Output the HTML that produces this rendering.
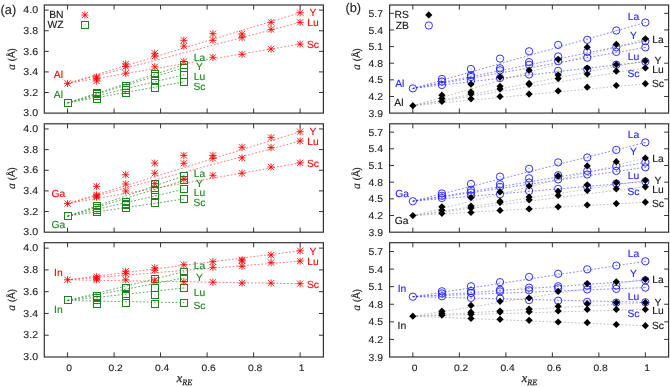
<!DOCTYPE html><html><head><meta charset="utf-8"><style>html,body{margin:0;padding:0;background:#fff;}body{width:670px;height:387px;overflow:hidden;font-family:"Liberation Sans",sans-serif;}svg{display:block;will-change:transform;} text{stroke-width:0.12px;text-rendering:geometricPrecision;}</style></head><body><svg width="670" height="387" viewBox="0 0 670 387"><rect width="670" height="387" fill="#fff"/><rect x="44.3" y="5" width="279.1" height="108.1" fill="none" stroke="#333333" stroke-width="1.2"/><path d="M67.56 5v4.6M67.56 113.1v-4.6" stroke="#333333" stroke-width="1"/><path d="M114.08 5v4.6M114.08 113.1v-4.6" stroke="#333333" stroke-width="1"/><path d="M160.59 5v4.6M160.59 113.1v-4.6" stroke="#333333" stroke-width="1"/><path d="M207.11 5v4.6M207.11 113.1v-4.6" stroke="#333333" stroke-width="1"/><path d="M253.62 5v4.6M253.62 113.1v-4.6" stroke="#333333" stroke-width="1"/><path d="M300.14 5v4.6M300.14 113.1v-4.6" stroke="#333333" stroke-width="1"/><path d="M44.3 92.51h4.4M323.4 92.51h-4.4" stroke="#333333" stroke-width="1"/><path d="M44.3 71.92h4.4M323.4 71.92h-4.4" stroke="#333333" stroke-width="1"/><path d="M44.3 51.33h4.4M323.4 51.33h-4.4" stroke="#333333" stroke-width="1"/><path d="M44.3 30.74h4.4M323.4 30.74h-4.4" stroke="#333333" stroke-width="1"/><path d="M44.3 10.15h4.4M323.4 10.15h-4.4" stroke="#333333" stroke-width="1"/><rect x="389.6" y="5" width="279" height="108.1" fill="none" stroke="#333333" stroke-width="1.2"/><path d="M412.85 5v4.6M412.85 113.1v-4.6" stroke="#333333" stroke-width="1"/><path d="M459.35 5v4.6M459.35 113.1v-4.6" stroke="#333333" stroke-width="1"/><path d="M505.85 5v4.6M505.85 113.1v-4.6" stroke="#333333" stroke-width="1"/><path d="M552.35 5v4.6M552.35 113.1v-4.6" stroke="#333333" stroke-width="1"/><path d="M598.85 5v4.6M598.85 113.1v-4.6" stroke="#333333" stroke-width="1"/><path d="M645.35 5v4.6M645.35 113.1v-4.6" stroke="#333333" stroke-width="1"/><path d="M389.6 96.47h4.4M668.6 96.47h-4.4" stroke="#333333" stroke-width="1"/><path d="M389.6 79.84h4.4M668.6 79.84h-4.4" stroke="#333333" stroke-width="1"/><path d="M389.6 63.21h4.4M668.6 63.21h-4.4" stroke="#333333" stroke-width="1"/><path d="M389.6 46.58h4.4M668.6 46.58h-4.4" stroke="#333333" stroke-width="1"/><path d="M389.6 29.95h4.4M668.6 29.95h-4.4" stroke="#333333" stroke-width="1"/><path d="M389.6 13.32h4.4M668.6 13.32h-4.4" stroke="#333333" stroke-width="1"/><rect x="44.3" y="123.8" width="279.1" height="108.4" fill="none" stroke="#333333" stroke-width="1.2"/><path d="M67.56 123.8v4.6M67.56 232.2v-4.6" stroke="#333333" stroke-width="1"/><path d="M114.08 123.8v4.6M114.08 232.2v-4.6" stroke="#333333" stroke-width="1"/><path d="M160.59 123.8v4.6M160.59 232.2v-4.6" stroke="#333333" stroke-width="1"/><path d="M207.11 123.8v4.6M207.11 232.2v-4.6" stroke="#333333" stroke-width="1"/><path d="M253.62 123.8v4.6M253.62 232.2v-4.6" stroke="#333333" stroke-width="1"/><path d="M300.14 123.8v4.6M300.14 232.2v-4.6" stroke="#333333" stroke-width="1"/><path d="M44.3 211.55h4.4M323.4 211.55h-4.4" stroke="#333333" stroke-width="1"/><path d="M44.3 190.9h4.4M323.4 190.9h-4.4" stroke="#333333" stroke-width="1"/><path d="M44.3 170.26h4.4M323.4 170.26h-4.4" stroke="#333333" stroke-width="1"/><path d="M44.3 149.61h4.4M323.4 149.61h-4.4" stroke="#333333" stroke-width="1"/><path d="M44.3 128.96h4.4M323.4 128.96h-4.4" stroke="#333333" stroke-width="1"/><rect x="389.6" y="123.8" width="279" height="108.4" fill="none" stroke="#333333" stroke-width="1.2"/><path d="M412.85 123.8v4.6M412.85 232.2v-4.6" stroke="#333333" stroke-width="1"/><path d="M459.35 123.8v4.6M459.35 232.2v-4.6" stroke="#333333" stroke-width="1"/><path d="M505.85 123.8v4.6M505.85 232.2v-4.6" stroke="#333333" stroke-width="1"/><path d="M552.35 123.8v4.6M552.35 232.2v-4.6" stroke="#333333" stroke-width="1"/><path d="M598.85 123.8v4.6M598.85 232.2v-4.6" stroke="#333333" stroke-width="1"/><path d="M645.35 123.8v4.6M645.35 232.2v-4.6" stroke="#333333" stroke-width="1"/><path d="M389.6 215.52h4.4M668.6 215.52h-4.4" stroke="#333333" stroke-width="1"/><path d="M389.6 198.85h4.4M668.6 198.85h-4.4" stroke="#333333" stroke-width="1"/><path d="M389.6 182.17h4.4M668.6 182.17h-4.4" stroke="#333333" stroke-width="1"/><path d="M389.6 165.49h4.4M668.6 165.49h-4.4" stroke="#333333" stroke-width="1"/><path d="M389.6 148.82h4.4M668.6 148.82h-4.4" stroke="#333333" stroke-width="1"/><path d="M389.6 132.14h4.4M668.6 132.14h-4.4" stroke="#333333" stroke-width="1"/><rect x="44.3" y="242.7" width="279.1" height="114.3" fill="none" stroke="#333333" stroke-width="1.2"/><path d="M67.56 242.7v4.6M67.56 357v-4.6" stroke="#333333" stroke-width="1"/><path d="M114.08 242.7v4.6M114.08 357v-4.6" stroke="#333333" stroke-width="1"/><path d="M160.59 242.7v4.6M160.59 357v-4.6" stroke="#333333" stroke-width="1"/><path d="M207.11 242.7v4.6M207.11 357v-4.6" stroke="#333333" stroke-width="1"/><path d="M253.62 242.7v4.6M253.62 357v-4.6" stroke="#333333" stroke-width="1"/><path d="M300.14 242.7v4.6M300.14 357v-4.6" stroke="#333333" stroke-width="1"/><path d="M44.3 335.23h4.4M323.4 335.23h-4.4" stroke="#333333" stroke-width="1"/><path d="M44.3 313.46h4.4M323.4 313.46h-4.4" stroke="#333333" stroke-width="1"/><path d="M44.3 291.69h4.4M323.4 291.69h-4.4" stroke="#333333" stroke-width="1"/><path d="M44.3 269.91h4.4M323.4 269.91h-4.4" stroke="#333333" stroke-width="1"/><path d="M44.3 248.14h4.4M323.4 248.14h-4.4" stroke="#333333" stroke-width="1"/><rect x="389.6" y="242.7" width="279" height="114.3" fill="none" stroke="#333333" stroke-width="1.2"/><path d="M412.85 242.7v4.6M412.85 357v-4.6" stroke="#333333" stroke-width="1"/><path d="M459.35 242.7v4.6M459.35 357v-4.6" stroke="#333333" stroke-width="1"/><path d="M505.85 242.7v4.6M505.85 357v-4.6" stroke="#333333" stroke-width="1"/><path d="M552.35 242.7v4.6M552.35 357v-4.6" stroke="#333333" stroke-width="1"/><path d="M598.85 242.7v4.6M598.85 357v-4.6" stroke="#333333" stroke-width="1"/><path d="M645.35 242.7v4.6M645.35 357v-4.6" stroke="#333333" stroke-width="1"/><path d="M389.6 339.42h4.4M668.6 339.42h-4.4" stroke="#333333" stroke-width="1"/><path d="M389.6 321.83h4.4M668.6 321.83h-4.4" stroke="#333333" stroke-width="1"/><path d="M389.6 304.25h4.4M668.6 304.25h-4.4" stroke="#333333" stroke-width="1"/><path d="M389.6 286.66h4.4M668.6 286.66h-4.4" stroke="#333333" stroke-width="1"/><path d="M389.6 269.08h4.4M668.6 269.08h-4.4" stroke="#333333" stroke-width="1"/><path d="M389.6 251.49h4.4M668.6 251.49h-4.4" stroke="#333333" stroke-width="1"/><g font-family="Liberation Sans, sans-serif" fill="#222"><text transform="translate(38.1 116.3) scale(1.06 1.0)" fill="#222" stroke="#222" font-size="10.0" text-anchor="end">3.0</text><text transform="translate(38.1 95.71) scale(1.06 1.0)" fill="#222" stroke="#222" font-size="10.0" text-anchor="end">3.2</text><text transform="translate(38.1 75.12) scale(1.06 1.0)" fill="#222" stroke="#222" font-size="10.0" text-anchor="end">3.4</text><text transform="translate(38.1 54.53) scale(1.06 1.0)" fill="#222" stroke="#222" font-size="10.0" text-anchor="end">3.6</text><text transform="translate(38.1 33.94) scale(1.06 1.0)" fill="#222" stroke="#222" font-size="10.0" text-anchor="end">3.8</text><text transform="translate(38.1 13.35) scale(1.06 1.0)" fill="#222" stroke="#222" font-size="10.0" text-anchor="end">4.0</text><text transform="translate(383 116.7) scale(1.04 1.0)" fill="#222" stroke="#222" font-size="10.0" text-anchor="end">3.9</text><text transform="translate(383 100.07) scale(1.04 1.0)" fill="#222" stroke="#222" font-size="10.0" text-anchor="end">4.2</text><text transform="translate(383 83.44) scale(1.04 1.0)" fill="#222" stroke="#222" font-size="10.0" text-anchor="end">4.5</text><text transform="translate(383 66.81) scale(1.04 1.0)" fill="#222" stroke="#222" font-size="10.0" text-anchor="end">4.8</text><text transform="translate(383 50.18) scale(1.04 1.0)" fill="#222" stroke="#222" font-size="10.0" text-anchor="end">5.1</text><text transform="translate(383 33.55) scale(1.04 1.0)" fill="#222" stroke="#222" font-size="10.0" text-anchor="end">5.4</text><text transform="translate(383 16.92) scale(1.04 1.0)" fill="#222" stroke="#222" font-size="10.0" text-anchor="end">5.7</text><text transform="translate(38.1 235.4) scale(1.06 1.0)" fill="#222" stroke="#222" font-size="10.0" text-anchor="end">3.0</text><text transform="translate(38.1 214.75) scale(1.06 1.0)" fill="#222" stroke="#222" font-size="10.0" text-anchor="end">3.2</text><text transform="translate(38.1 194.1) scale(1.06 1.0)" fill="#222" stroke="#222" font-size="10.0" text-anchor="end">3.4</text><text transform="translate(38.1 173.46) scale(1.06 1.0)" fill="#222" stroke="#222" font-size="10.0" text-anchor="end">3.6</text><text transform="translate(38.1 152.81) scale(1.06 1.0)" fill="#222" stroke="#222" font-size="10.0" text-anchor="end">3.8</text><text transform="translate(38.1 132.16) scale(1.06 1.0)" fill="#222" stroke="#222" font-size="10.0" text-anchor="end">4.0</text><text transform="translate(383 235.8) scale(1.04 1.0)" fill="#222" stroke="#222" font-size="10.0" text-anchor="end">3.9</text><text transform="translate(383 219.12) scale(1.04 1.0)" fill="#222" stroke="#222" font-size="10.0" text-anchor="end">4.2</text><text transform="translate(383 202.45) scale(1.04 1.0)" fill="#222" stroke="#222" font-size="10.0" text-anchor="end">4.5</text><text transform="translate(383 185.77) scale(1.04 1.0)" fill="#222" stroke="#222" font-size="10.0" text-anchor="end">4.8</text><text transform="translate(383 169.09) scale(1.04 1.0)" fill="#222" stroke="#222" font-size="10.0" text-anchor="end">5.1</text><text transform="translate(383 152.42) scale(1.04 1.0)" fill="#222" stroke="#222" font-size="10.0" text-anchor="end">5.4</text><text transform="translate(383 135.74) scale(1.04 1.0)" fill="#222" stroke="#222" font-size="10.0" text-anchor="end">5.7</text><text transform="translate(38.1 360.2) scale(1.06 1.0)" fill="#222" stroke="#222" font-size="10.0" text-anchor="end">3.0</text><text transform="translate(38.1 338.43) scale(1.06 1.0)" fill="#222" stroke="#222" font-size="10.0" text-anchor="end">3.2</text><text transform="translate(38.1 316.66) scale(1.06 1.0)" fill="#222" stroke="#222" font-size="10.0" text-anchor="end">3.4</text><text transform="translate(38.1 294.89) scale(1.06 1.0)" fill="#222" stroke="#222" font-size="10.0" text-anchor="end">3.6</text><text transform="translate(38.1 273.11) scale(1.06 1.0)" fill="#222" stroke="#222" font-size="10.0" text-anchor="end">3.8</text><text transform="translate(38.1 251.34) scale(1.06 1.0)" fill="#222" stroke="#222" font-size="10.0" text-anchor="end">4.0</text><text transform="translate(383 360.6) scale(1.04 1.0)" fill="#222" stroke="#222" font-size="10.0" text-anchor="end">3.9</text><text transform="translate(383 343.02) scale(1.04 1.0)" fill="#222" stroke="#222" font-size="10.0" text-anchor="end">4.2</text><text transform="translate(383 325.43) scale(1.04 1.0)" fill="#222" stroke="#222" font-size="10.0" text-anchor="end">4.5</text><text transform="translate(383 307.85) scale(1.04 1.0)" fill="#222" stroke="#222" font-size="10.0" text-anchor="end">4.8</text><text transform="translate(383 290.26) scale(1.04 1.0)" fill="#222" stroke="#222" font-size="10.0" text-anchor="end">5.1</text><text transform="translate(383 272.68) scale(1.04 1.0)" fill="#222" stroke="#222" font-size="10.0" text-anchor="end">5.4</text><text transform="translate(383 255.09) scale(1.04 1.0)" fill="#222" stroke="#222" font-size="10.0" text-anchor="end">5.7</text><text transform="translate(69.06 370.55) scale(1.03 0.93)" fill="#222" stroke="#222" font-size="10.0" text-anchor="middle">0</text><text transform="translate(414.55 370.55) scale(1.03 0.93)" fill="#222" stroke="#222" font-size="10.0" text-anchor="middle">0</text><text transform="translate(115.58 370.55) scale(1.03 0.93)" fill="#222" stroke="#222" font-size="10.0" text-anchor="middle">0.2</text><text transform="translate(461.05 370.55) scale(1.03 0.93)" fill="#222" stroke="#222" font-size="10.0" text-anchor="middle">0.2</text><text transform="translate(162.09 370.55) scale(1.03 0.93)" fill="#222" stroke="#222" font-size="10.0" text-anchor="middle">0.4</text><text transform="translate(507.55 370.55) scale(1.03 0.93)" fill="#222" stroke="#222" font-size="10.0" text-anchor="middle">0.4</text><text transform="translate(208.61 370.55) scale(1.03 0.93)" fill="#222" stroke="#222" font-size="10.0" text-anchor="middle">0.6</text><text transform="translate(554.05 370.55) scale(1.03 0.93)" fill="#222" stroke="#222" font-size="10.0" text-anchor="middle">0.6</text><text transform="translate(255.12 370.55) scale(1.03 0.93)" fill="#222" stroke="#222" font-size="10.0" text-anchor="middle">0.8</text><text transform="translate(600.55 370.55) scale(1.03 0.93)" fill="#222" stroke="#222" font-size="10.0" text-anchor="middle">0.8</text><text transform="translate(301.64 370.55) scale(1.03 0.93)" fill="#222" stroke="#222" font-size="10.0" text-anchor="middle">1</text><text transform="translate(647.05 370.55) scale(1.03 0.93)" fill="#222" stroke="#222" font-size="10.0" text-anchor="middle">1</text></g><line x1="67.56" y1="83.4" x2="300.14" y2="12.7" stroke="#ff0000" stroke-width="0.85" stroke-dasharray="1.8 1.8" opacity="0.6"/><line x1="67.56" y1="83.4" x2="300.14" y2="22.3" stroke="#ff0000" stroke-width="0.85" stroke-dasharray="1.8 1.8" opacity="0.6"/><line x1="67.56" y1="83.4" x2="300.14" y2="44.1" stroke="#ff0000" stroke-width="0.85" stroke-dasharray="1.8 1.8" opacity="0.6"/><line x1="67.56" y1="102.85" x2="183.85" y2="64.8" stroke="#1e821e" stroke-width="0.85" stroke-dasharray="1.8 1.8" opacity="0.8"/><line x1="67.56" y1="102.85" x2="183.85" y2="67.8" stroke="#1e821e" stroke-width="0.85" stroke-dasharray="1.8 1.8" opacity="0.8"/><line x1="67.56" y1="102.85" x2="183.85" y2="74.8" stroke="#1e821e" stroke-width="0.85" stroke-dasharray="1.8 1.8" opacity="0.8"/><line x1="67.56" y1="102.85" x2="183.85" y2="82" stroke="#1e821e" stroke-width="0.85" stroke-dasharray="1.8 1.8" opacity="0.8"/><line x1="67.56" y1="203.6" x2="300.14" y2="131.7" stroke="#ff0000" stroke-width="0.85" stroke-dasharray="1.8 1.8" opacity="0.6"/><line x1="67.56" y1="203.6" x2="300.14" y2="141" stroke="#ff0000" stroke-width="0.85" stroke-dasharray="1.8 1.8" opacity="0.6"/><line x1="67.56" y1="203.6" x2="300.14" y2="162.9" stroke="#ff0000" stroke-width="0.85" stroke-dasharray="1.8 1.8" opacity="0.6"/><line x1="67.56" y1="216.2" x2="183.85" y2="175.8" stroke="#1e821e" stroke-width="0.85" stroke-dasharray="1.8 1.8" opacity="0.8"/><line x1="67.56" y1="216.2" x2="183.85" y2="180.5" stroke="#1e821e" stroke-width="0.85" stroke-dasharray="1.8 1.8" opacity="0.8"/><line x1="67.56" y1="216.2" x2="183.85" y2="189.2" stroke="#1e821e" stroke-width="0.85" stroke-dasharray="1.8 1.8" opacity="0.8"/><line x1="67.56" y1="216.2" x2="183.85" y2="199" stroke="#1e821e" stroke-width="0.85" stroke-dasharray="1.8 1.8" opacity="0.8"/><line x1="67.56" y1="279.8" x2="300.14" y2="250.8" stroke="#ff0000" stroke-width="0.85" stroke-dasharray="1.8 1.8" opacity="0.6"/><line x1="67.56" y1="279.8" x2="300.14" y2="261.1" stroke="#ff0000" stroke-width="0.85" stroke-dasharray="1.8 1.8" opacity="0.6"/><line x1="67.56" y1="279.8" x2="300.14" y2="283.7" stroke="#ff0000" stroke-width="0.85" stroke-dasharray="1.8 1.8" opacity="0.6"/><line x1="67.56" y1="300.5" x2="183.85" y2="271.7" stroke="#1e821e" stroke-width="0.85" stroke-dasharray="1.8 1.8" opacity="0.8"/><line x1="67.56" y1="300.5" x2="183.85" y2="277.9" stroke="#1e821e" stroke-width="0.85" stroke-dasharray="1.8 1.8" opacity="0.8"/><line x1="67.56" y1="300.5" x2="183.85" y2="288" stroke="#1e821e" stroke-width="0.85" stroke-dasharray="1.8 1.8" opacity="0.8"/><line x1="67.56" y1="300.5" x2="183.85" y2="302.7" stroke="#1e821e" stroke-width="0.85" stroke-dasharray="1.8 1.8" opacity="0.8"/><line x1="412.85" y1="88.4" x2="645.35" y2="22.5" stroke="#1a1aff" stroke-width="0.85" stroke-dasharray="1.8 1.8" opacity="0.6"/><line x1="412.85" y1="88.4" x2="645.35" y2="41.1" stroke="#1a1aff" stroke-width="0.85" stroke-dasharray="1.8 1.8" opacity="0.6"/><line x1="412.85" y1="88.4" x2="645.35" y2="47.4" stroke="#1a1aff" stroke-width="0.85" stroke-dasharray="1.8 1.8" opacity="0.6"/><line x1="412.85" y1="88.4" x2="645.35" y2="61.6" stroke="#1a1aff" stroke-width="0.85" stroke-dasharray="1.8 1.8" opacity="0.6"/><line x1="412.85" y1="105.7" x2="645.35" y2="38.8" stroke="#888888" stroke-width="0.85" stroke-dasharray="1.8 1.8" opacity="0.6"/><line x1="412.85" y1="105.7" x2="645.35" y2="60.9" stroke="#888888" stroke-width="0.85" stroke-dasharray="1.8 1.8" opacity="0.6"/><line x1="412.85" y1="105.7" x2="645.35" y2="67.9" stroke="#888888" stroke-width="0.85" stroke-dasharray="1.8 1.8" opacity="0.6"/><line x1="412.85" y1="105.7" x2="645.35" y2="83.7" stroke="#888888" stroke-width="0.85" stroke-dasharray="1.8 1.8" opacity="0.6"/><line x1="412.85" y1="201.2" x2="645.35" y2="142.4" stroke="#1a1aff" stroke-width="0.85" stroke-dasharray="1.8 1.8" opacity="0.6"/><line x1="412.85" y1="201.2" x2="645.35" y2="162.5" stroke="#1a1aff" stroke-width="0.85" stroke-dasharray="1.8 1.8" opacity="0.6"/><line x1="412.85" y1="201.2" x2="645.35" y2="167.3" stroke="#1a1aff" stroke-width="0.85" stroke-dasharray="1.8 1.8" opacity="0.6"/><line x1="412.85" y1="201.2" x2="645.35" y2="181.5" stroke="#1a1aff" stroke-width="0.85" stroke-dasharray="1.8 1.8" opacity="0.6"/><line x1="412.85" y1="215.6" x2="645.35" y2="158.1" stroke="#888888" stroke-width="0.85" stroke-dasharray="1.8 1.8" opacity="0.6"/><line x1="412.85" y1="215.6" x2="645.35" y2="180.4" stroke="#888888" stroke-width="0.85" stroke-dasharray="1.8 1.8" opacity="0.6"/><line x1="412.85" y1="215.6" x2="645.35" y2="186.8" stroke="#888888" stroke-width="0.85" stroke-dasharray="1.8 1.8" opacity="0.6"/><line x1="412.85" y1="215.6" x2="645.35" y2="202.2" stroke="#888888" stroke-width="0.85" stroke-dasharray="1.8 1.8" opacity="0.6"/><line x1="412.85" y1="296.7" x2="645.35" y2="261.3" stroke="#1a1aff" stroke-width="0.85" stroke-dasharray="1.8 1.8" opacity="0.6"/><line x1="412.85" y1="296.7" x2="645.35" y2="280.3" stroke="#1a1aff" stroke-width="0.85" stroke-dasharray="1.8 1.8" opacity="0.6"/><line x1="412.85" y1="296.7" x2="645.35" y2="287.6" stroke="#1a1aff" stroke-width="0.85" stroke-dasharray="1.8 1.8" opacity="0.6"/><line x1="412.85" y1="296.7" x2="645.35" y2="302.3" stroke="#1a1aff" stroke-width="0.85" stroke-dasharray="1.8 1.8" opacity="0.6"/><line x1="412.85" y1="316.2" x2="645.35" y2="279.3" stroke="#888888" stroke-width="0.85" stroke-dasharray="1.8 1.8" opacity="0.6"/><line x1="412.85" y1="316.2" x2="645.35" y2="302.6" stroke="#888888" stroke-width="0.85" stroke-dasharray="1.8 1.8" opacity="0.6"/><line x1="412.85" y1="316.2" x2="645.35" y2="309.4" stroke="#888888" stroke-width="0.85" stroke-dasharray="1.8 1.8" opacity="0.6"/><line x1="412.85" y1="316.2" x2="645.35" y2="325.7" stroke="#888888" stroke-width="0.85" stroke-dasharray="1.8 1.8" opacity="0.6"/><rect x="64.5" y="99.5" width="7" height="7" stroke="#1e821e" stroke-width="1" fill="none"/><rect x="67.5" y="102.5" width="1" height="1" fill="#1e821e" opacity="0.5"/><rect x="93.5" y="89.5" width="7" height="7" stroke="#1e821e" stroke-width="1" fill="none"/><rect x="96.5" y="92.5" width="1" height="1" fill="#1e821e" opacity="0.5"/><rect x="93.5" y="90.5" width="7" height="7" stroke="#1e821e" stroke-width="1" fill="none"/><rect x="96.5" y="93.5" width="1" height="1" fill="#1e821e" opacity="0.5"/><rect x="93.5" y="92.5" width="7" height="7" stroke="#1e821e" stroke-width="1" fill="none"/><rect x="96.5" y="95.5" width="1" height="1" fill="#1e821e" opacity="0.5"/><rect x="93.5" y="95.5" width="7" height="7" stroke="#1e821e" stroke-width="1" fill="none"/><rect x="96.5" y="98.5" width="1" height="1" fill="#1e821e" opacity="0.5"/><rect x="122.5" y="82.5" width="7" height="7" stroke="#1e821e" stroke-width="1" fill="none"/><rect x="125.5" y="85.5" width="1" height="1" fill="#1e821e" opacity="0.5"/><rect x="122.5" y="84.5" width="7" height="7" stroke="#1e821e" stroke-width="1" fill="none"/><rect x="125.5" y="87.5" width="1" height="1" fill="#1e821e" opacity="0.5"/><rect x="122.5" y="86.5" width="7" height="7" stroke="#1e821e" stroke-width="1" fill="none"/><rect x="125.5" y="89.5" width="1" height="1" fill="#1e821e" opacity="0.5"/><rect x="122.5" y="89.5" width="7" height="7" stroke="#1e821e" stroke-width="1" fill="none"/><rect x="125.5" y="92.5" width="1" height="1" fill="#1e821e" opacity="0.5"/><rect x="151.5" y="70.5" width="7" height="7" stroke="#1e821e" stroke-width="1" fill="none"/><rect x="154.5" y="73.5" width="1" height="1" fill="#1e821e" opacity="0.5"/><rect x="151.5" y="72.5" width="7" height="7" stroke="#1e821e" stroke-width="1" fill="none"/><rect x="154.5" y="75.5" width="1" height="1" fill="#1e821e" opacity="0.5"/><rect x="151.5" y="76.5" width="7" height="7" stroke="#1e821e" stroke-width="1" fill="none"/><rect x="154.5" y="79.5" width="1" height="1" fill="#1e821e" opacity="0.5"/><rect x="151.5" y="84.5" width="7" height="7" stroke="#1e821e" stroke-width="1" fill="none"/><rect x="154.5" y="87.5" width="1" height="1" fill="#1e821e" opacity="0.5"/><rect x="180.5" y="61.5" width="7" height="7" stroke="#1e821e" stroke-width="1" fill="none"/><rect x="183.5" y="64.5" width="1" height="1" fill="#1e821e" opacity="0.5"/><rect x="180.5" y="64.5" width="7" height="7" stroke="#1e821e" stroke-width="1" fill="none"/><rect x="183.5" y="67.5" width="1" height="1" fill="#1e821e" opacity="0.5"/><rect x="180.5" y="71.5" width="7" height="7" stroke="#1e821e" stroke-width="1" fill="none"/><rect x="183.5" y="74.5" width="1" height="1" fill="#1e821e" opacity="0.5"/><rect x="180.5" y="78.5" width="7" height="7" stroke="#1e821e" stroke-width="1" fill="none"/><rect x="183.5" y="81.5" width="1" height="1" fill="#1e821e" opacity="0.5"/><path d="M63.96 83.4h7.2M67.56 79.8v7.2M64.46 80.3l6.2 6.2M64.46 86.5l6.2 -6.2" stroke="#ff0000" stroke-width="0.85" fill="none"/><path d="M93.03 77h7.2M96.63 73.4v7.2M93.53 73.9l6.2 6.2M93.53 80.1l6.2 -6.2" stroke="#ff0000" stroke-width="0.85" fill="none"/><path d="M93.03 78.2h7.2M96.63 74.6v7.2M93.53 75.1l6.2 6.2M93.53 81.3l6.2 -6.2" stroke="#ff0000" stroke-width="0.85" fill="none"/><path d="M93.03 81h7.2M96.63 77.4v7.2M93.53 77.9l6.2 6.2M93.53 84.1l6.2 -6.2" stroke="#ff0000" stroke-width="0.85" fill="none"/><path d="M122.1 64h7.2M125.7 60.4v7.2M122.6 60.9l6.2 6.2M122.6 67.1l6.2 -6.2" stroke="#ff0000" stroke-width="0.85" fill="none"/><path d="M122.1 66.5h7.2M125.7 62.9v7.2M122.6 63.4l6.2 6.2M122.6 69.6l6.2 -6.2" stroke="#ff0000" stroke-width="0.85" fill="none"/><path d="M122.1 73.2h7.2M125.7 69.6v7.2M122.6 70.1l6.2 6.2M122.6 76.3l6.2 -6.2" stroke="#ff0000" stroke-width="0.85" fill="none"/><path d="M151.18 53.3h7.2M154.78 49.7v7.2M151.68 50.2l6.2 6.2M151.68 56.4l6.2 -6.2" stroke="#ff0000" stroke-width="0.85" fill="none"/><path d="M151.18 56.2h7.2M154.78 52.6v7.2M151.68 53.1l6.2 6.2M151.68 59.3l6.2 -6.2" stroke="#ff0000" stroke-width="0.85" fill="none"/><path d="M151.18 66.8h7.2M154.78 63.2v7.2M151.68 63.7l6.2 6.2M151.68 69.9l6.2 -6.2" stroke="#ff0000" stroke-width="0.85" fill="none"/><path d="M180.25 40.3h7.2M183.85 36.7v7.2M180.75 37.2l6.2 6.2M180.75 43.4l6.2 -6.2" stroke="#ff0000" stroke-width="0.85" fill="none"/><path d="M180.25 46.1h7.2M183.85 42.5v7.2M180.75 43l6.2 6.2M180.75 49.2l6.2 -6.2" stroke="#ff0000" stroke-width="0.85" fill="none"/><path d="M180.25 61.5h7.2M183.85 57.9v7.2M180.75 58.4l6.2 6.2M180.75 64.6l6.2 -6.2" stroke="#ff0000" stroke-width="0.85" fill="none"/><path d="M209.32 33.7h7.2M212.92 30.1v7.2M209.82 30.6l6.2 6.2M209.82 36.8l6.2 -6.2" stroke="#ff0000" stroke-width="0.85" fill="none"/><path d="M209.32 40.3h7.2M212.92 36.7v7.2M209.82 37.2l6.2 6.2M209.82 43.4l6.2 -6.2" stroke="#ff0000" stroke-width="0.85" fill="none"/><path d="M209.32 57.3h7.2M212.92 53.7v7.2M209.82 54.2l6.2 6.2M209.82 60.4l6.2 -6.2" stroke="#ff0000" stroke-width="0.85" fill="none"/><path d="M238.4 33.9h7.2M242 30.3v7.2M238.9 30.8l6.2 6.2M238.9 37l6.2 -6.2" stroke="#ff0000" stroke-width="0.85" fill="none"/><path d="M238.4 37.6h7.2M242 34v7.2M238.9 34.5l6.2 6.2M238.9 40.7l6.2 -6.2" stroke="#ff0000" stroke-width="0.85" fill="none"/><path d="M238.4 54.3h7.2M242 50.7v7.2M238.9 51.2l6.2 6.2M238.9 57.4l6.2 -6.2" stroke="#ff0000" stroke-width="0.85" fill="none"/><path d="M267.47 22.3h7.2M271.07 18.7v7.2M267.97 19.2l6.2 6.2M267.97 25.4l6.2 -6.2" stroke="#ff0000" stroke-width="0.85" fill="none"/><path d="M267.47 29.4h7.2M271.07 25.8v7.2M267.97 26.3l6.2 6.2M267.97 32.5l6.2 -6.2" stroke="#ff0000" stroke-width="0.85" fill="none"/><path d="M267.47 49h7.2M271.07 45.4v7.2M267.97 45.9l6.2 6.2M267.97 52.1l6.2 -6.2" stroke="#ff0000" stroke-width="0.85" fill="none"/><path d="M296.54 12.7h7.2M300.14 9.1v7.2M297.04 9.6l6.2 6.2M297.04 15.8l6.2 -6.2" stroke="#ff0000" stroke-width="0.85" fill="none"/><path d="M296.54 22.3h7.2M300.14 18.7v7.2M297.04 19.2l6.2 6.2M297.04 25.4l6.2 -6.2" stroke="#ff0000" stroke-width="0.85" fill="none"/><path d="M296.54 44.1h7.2M300.14 40.5v7.2M297.04 41l6.2 6.2M297.04 47.2l6.2 -6.2" stroke="#ff0000" stroke-width="0.85" fill="none"/><circle cx="412.85" cy="88.4" r="3.65" stroke="#1a1aff" stroke-width="0.9" fill="none"/><rect x="412.25" y="88" width="1.2" height="0.8" fill="#1a1aff" opacity="0.6"/><circle cx="441.91" cy="79" r="3.65" stroke="#1a1aff" stroke-width="0.9" fill="none"/><rect x="441.31" y="78.6" width="1.2" height="0.8" fill="#1a1aff" opacity="0.6"/><circle cx="441.91" cy="81.6" r="3.65" stroke="#1a1aff" stroke-width="0.9" fill="none"/><rect x="441.31" y="81.2" width="1.2" height="0.8" fill="#1a1aff" opacity="0.6"/><circle cx="441.91" cy="85" r="3.65" stroke="#1a1aff" stroke-width="0.9" fill="none"/><rect x="441.31" y="84.6" width="1.2" height="0.8" fill="#1a1aff" opacity="0.6"/><circle cx="470.98" cy="69" r="3.65" stroke="#1a1aff" stroke-width="0.9" fill="none"/><rect x="470.38" y="68.6" width="1.2" height="0.8" fill="#1a1aff" opacity="0.6"/><circle cx="470.98" cy="75.1" r="3.65" stroke="#1a1aff" stroke-width="0.9" fill="none"/><rect x="470.38" y="74.7" width="1.2" height="0.8" fill="#1a1aff" opacity="0.6"/><circle cx="470.98" cy="77" r="3.65" stroke="#1a1aff" stroke-width="0.9" fill="none"/><rect x="470.38" y="76.6" width="1.2" height="0.8" fill="#1a1aff" opacity="0.6"/><circle cx="470.98" cy="80.8" r="3.65" stroke="#1a1aff" stroke-width="0.9" fill="none"/><rect x="470.38" y="80.4" width="1.2" height="0.8" fill="#1a1aff" opacity="0.6"/><circle cx="500.04" cy="58.6" r="3.65" stroke="#1a1aff" stroke-width="0.9" fill="none"/><rect x="499.44" y="58.2" width="1.2" height="0.8" fill="#1a1aff" opacity="0.6"/><circle cx="500.04" cy="68.3" r="3.65" stroke="#1a1aff" stroke-width="0.9" fill="none"/><rect x="499.44" y="67.9" width="1.2" height="0.8" fill="#1a1aff" opacity="0.6"/><circle cx="500.04" cy="70.3" r="3.65" stroke="#1a1aff" stroke-width="0.9" fill="none"/><rect x="499.44" y="69.9" width="1.2" height="0.8" fill="#1a1aff" opacity="0.6"/><circle cx="500.04" cy="78" r="3.65" stroke="#1a1aff" stroke-width="0.9" fill="none"/><rect x="499.44" y="77.6" width="1.2" height="0.8" fill="#1a1aff" opacity="0.6"/><circle cx="529.1" cy="51.3" r="3.65" stroke="#1a1aff" stroke-width="0.9" fill="none"/><rect x="528.5" y="50.9" width="1.2" height="0.8" fill="#1a1aff" opacity="0.6"/><circle cx="529.1" cy="62.1" r="3.65" stroke="#1a1aff" stroke-width="0.9" fill="none"/><rect x="528.5" y="61.7" width="1.2" height="0.8" fill="#1a1aff" opacity="0.6"/><circle cx="529.1" cy="64.8" r="3.65" stroke="#1a1aff" stroke-width="0.9" fill="none"/><rect x="528.5" y="64.4" width="1.2" height="0.8" fill="#1a1aff" opacity="0.6"/><circle cx="529.1" cy="74.5" r="3.65" stroke="#1a1aff" stroke-width="0.9" fill="none"/><rect x="528.5" y="74.1" width="1.2" height="0.8" fill="#1a1aff" opacity="0.6"/><circle cx="558.16" cy="44.9" r="3.65" stroke="#1a1aff" stroke-width="0.9" fill="none"/><rect x="557.56" y="44.5" width="1.2" height="0.8" fill="#1a1aff" opacity="0.6"/><circle cx="558.16" cy="56.5" r="3.65" stroke="#1a1aff" stroke-width="0.9" fill="none"/><rect x="557.56" y="56.1" width="1.2" height="0.8" fill="#1a1aff" opacity="0.6"/><circle cx="558.16" cy="61.2" r="3.65" stroke="#1a1aff" stroke-width="0.9" fill="none"/><rect x="557.56" y="60.8" width="1.2" height="0.8" fill="#1a1aff" opacity="0.6"/><circle cx="558.16" cy="70.9" r="3.65" stroke="#1a1aff" stroke-width="0.9" fill="none"/><rect x="557.56" y="70.5" width="1.2" height="0.8" fill="#1a1aff" opacity="0.6"/><circle cx="587.23" cy="39.8" r="3.65" stroke="#1a1aff" stroke-width="0.9" fill="none"/><rect x="586.62" y="39.4" width="1.2" height="0.8" fill="#1a1aff" opacity="0.6"/><circle cx="587.23" cy="51.9" r="3.65" stroke="#1a1aff" stroke-width="0.9" fill="none"/><rect x="586.62" y="51.5" width="1.2" height="0.8" fill="#1a1aff" opacity="0.6"/><circle cx="587.23" cy="57.7" r="3.65" stroke="#1a1aff" stroke-width="0.9" fill="none"/><rect x="586.62" y="57.3" width="1.2" height="0.8" fill="#1a1aff" opacity="0.6"/><circle cx="587.23" cy="69.3" r="3.65" stroke="#1a1aff" stroke-width="0.9" fill="none"/><rect x="586.62" y="68.9" width="1.2" height="0.8" fill="#1a1aff" opacity="0.6"/><circle cx="616.29" cy="30.5" r="3.65" stroke="#1a1aff" stroke-width="0.9" fill="none"/><rect x="615.69" y="30.1" width="1.2" height="0.8" fill="#1a1aff" opacity="0.6"/><circle cx="616.29" cy="47.2" r="3.65" stroke="#1a1aff" stroke-width="0.9" fill="none"/><rect x="615.69" y="46.8" width="1.2" height="0.8" fill="#1a1aff" opacity="0.6"/><circle cx="616.29" cy="51.9" r="3.65" stroke="#1a1aff" stroke-width="0.9" fill="none"/><rect x="615.69" y="51.5" width="1.2" height="0.8" fill="#1a1aff" opacity="0.6"/><circle cx="616.29" cy="64.7" r="3.65" stroke="#1a1aff" stroke-width="0.9" fill="none"/><rect x="615.69" y="64.3" width="1.2" height="0.8" fill="#1a1aff" opacity="0.6"/><circle cx="645.35" cy="22.5" r="3.65" stroke="#1a1aff" stroke-width="0.9" fill="none"/><rect x="644.75" y="22.1" width="1.2" height="0.8" fill="#1a1aff" opacity="0.6"/><circle cx="645.35" cy="41.1" r="3.65" stroke="#1a1aff" stroke-width="0.9" fill="none"/><rect x="644.75" y="40.7" width="1.2" height="0.8" fill="#1a1aff" opacity="0.6"/><circle cx="645.35" cy="47.4" r="3.65" stroke="#1a1aff" stroke-width="0.9" fill="none"/><rect x="644.75" y="47" width="1.2" height="0.8" fill="#1a1aff" opacity="0.6"/><circle cx="645.35" cy="61.6" r="3.65" stroke="#1a1aff" stroke-width="0.9" fill="none"/><rect x="644.75" y="61.2" width="1.2" height="0.8" fill="#1a1aff" opacity="0.6"/><path d="M412.85 102.1L416.45 105.7L412.85 109.3L409.25 105.7Z" fill="#000000"/><path d="M441.91 91.6L445.51 95.2L441.91 98.8L438.31 95.2Z" fill="#000000"/><path d="M441.91 94.8L445.51 98.4L441.91 102L438.31 98.4Z" fill="#000000"/><path d="M441.91 97.8L445.51 101.4L441.91 105L438.31 101.4Z" fill="#000000"/><path d="M470.98 80.6L474.58 84.2L470.98 87.8L467.38 84.2Z" fill="#000000"/><path d="M470.98 88.3L474.58 91.9L470.98 95.5L467.38 91.9Z" fill="#000000"/><path d="M470.98 90.4L474.58 94L470.98 97.6L467.38 94Z" fill="#000000"/><path d="M470.98 95.2L474.58 98.8L470.98 102.4L467.38 98.8Z" fill="#000000"/><path d="M500.04 73.6L503.64 77.2L500.04 80.8L496.44 77.2Z" fill="#000000"/><path d="M500.04 82.7L503.64 86.3L500.04 89.9L496.44 86.3Z" fill="#000000"/><path d="M500.04 85.4L503.64 89L500.04 92.6L496.44 89Z" fill="#000000"/><path d="M500.04 93L503.64 96.6L500.04 100.2L496.44 96.6Z" fill="#000000"/><path d="M529.1 66.7L532.7 70.3L529.1 73.9L525.5 70.3Z" fill="#000000"/><path d="M529.1 79.8L532.7 83.4L529.1 87L525.5 83.4Z" fill="#000000"/><path d="M529.1 80.9L532.7 84.5L529.1 88.1L525.5 84.5Z" fill="#000000"/><path d="M529.1 90.5L532.7 94.1L529.1 97.7L525.5 94.1Z" fill="#000000"/><path d="M558.16 55.7L561.76 59.3L558.16 62.9L554.56 59.3Z" fill="#000000"/><path d="M558.16 71.5L561.76 75.1L558.16 78.7L554.56 75.1Z" fill="#000000"/><path d="M558.16 75L561.76 78.6L558.16 82.2L554.56 78.6Z" fill="#000000"/><path d="M558.16 87.3L561.76 90.9L558.16 94.5L554.56 90.9Z" fill="#000000"/><path d="M587.23 43.6L590.83 47.2L587.23 50.8L583.62 47.2Z" fill="#000000"/><path d="M587.23 64.5L590.83 68.1L587.23 71.7L583.62 68.1Z" fill="#000000"/><path d="M587.23 70.4L590.83 74L587.23 77.6L583.62 74Z" fill="#000000"/><path d="M587.23 83.6L590.83 87.2L587.23 90.8L583.62 87.2Z" fill="#000000"/><path d="M616.29 40.7L619.89 44.3L616.29 47.9L612.69 44.3Z" fill="#000000"/><path d="M616.29 60.9L619.89 64.5L616.29 68.1L612.69 64.5Z" fill="#000000"/><path d="M616.29 67.6L619.89 71.2L616.29 74.8L612.69 71.2Z" fill="#000000"/><path d="M616.29 81.9L619.89 85.5L616.29 89.1L612.69 85.5Z" fill="#000000"/><path d="M645.35 35.2L648.95 38.8L645.35 42.4L641.75 38.8Z" fill="#000000"/><path d="M645.35 57.3L648.95 60.9L645.35 64.5L641.75 60.9Z" fill="#000000"/><path d="M645.35 64.3L648.95 67.9L645.35 71.5L641.75 67.9Z" fill="#000000"/><path d="M645.35 80.1L648.95 83.7L645.35 87.3L641.75 83.7Z" fill="#000000"/><rect x="64.5" y="212.5" width="7" height="7" stroke="#1e821e" stroke-width="1" fill="none"/><rect x="67.5" y="215.5" width="1" height="1" fill="#1e821e" opacity="0.5"/><rect x="93.5" y="202.5" width="7" height="7" stroke="#1e821e" stroke-width="1" fill="none"/><rect x="96.5" y="205.5" width="1" height="1" fill="#1e821e" opacity="0.5"/><rect x="93.5" y="204.5" width="7" height="7" stroke="#1e821e" stroke-width="1" fill="none"/><rect x="96.5" y="207.5" width="1" height="1" fill="#1e821e" opacity="0.5"/><rect x="93.5" y="206.5" width="7" height="7" stroke="#1e821e" stroke-width="1" fill="none"/><rect x="96.5" y="209.5" width="1" height="1" fill="#1e821e" opacity="0.5"/><rect x="93.5" y="208.5" width="7" height="7" stroke="#1e821e" stroke-width="1" fill="none"/><rect x="96.5" y="211.5" width="1" height="1" fill="#1e821e" opacity="0.5"/><rect x="122.5" y="198.5" width="7" height="7" stroke="#1e821e" stroke-width="1" fill="none"/><rect x="125.5" y="201.5" width="1" height="1" fill="#1e821e" opacity="0.5"/><rect x="122.5" y="200.5" width="7" height="7" stroke="#1e821e" stroke-width="1" fill="none"/><rect x="125.5" y="203.5" width="1" height="1" fill="#1e821e" opacity="0.5"/><rect x="122.5" y="201.5" width="7" height="7" stroke="#1e821e" stroke-width="1" fill="none"/><rect x="125.5" y="204.5" width="1" height="1" fill="#1e821e" opacity="0.5"/><rect x="122.5" y="204.5" width="7" height="7" stroke="#1e821e" stroke-width="1" fill="none"/><rect x="125.5" y="207.5" width="1" height="1" fill="#1e821e" opacity="0.5"/><rect x="151.5" y="180.5" width="7" height="7" stroke="#1e821e" stroke-width="1" fill="none"/><rect x="154.5" y="183.5" width="1" height="1" fill="#1e821e" opacity="0.5"/><rect x="151.5" y="186.5" width="7" height="7" stroke="#1e821e" stroke-width="1" fill="none"/><rect x="154.5" y="189.5" width="1" height="1" fill="#1e821e" opacity="0.5"/><rect x="151.5" y="191.5" width="7" height="7" stroke="#1e821e" stroke-width="1" fill="none"/><rect x="154.5" y="194.5" width="1" height="1" fill="#1e821e" opacity="0.5"/><rect x="151.5" y="199.5" width="7" height="7" stroke="#1e821e" stroke-width="1" fill="none"/><rect x="154.5" y="202.5" width="1" height="1" fill="#1e821e" opacity="0.5"/><rect x="180.5" y="172.5" width="7" height="7" stroke="#1e821e" stroke-width="1" fill="none"/><rect x="183.5" y="175.5" width="1" height="1" fill="#1e821e" opacity="0.5"/><rect x="180.5" y="176.5" width="7" height="7" stroke="#1e821e" stroke-width="1" fill="none"/><rect x="183.5" y="179.5" width="1" height="1" fill="#1e821e" opacity="0.5"/><rect x="180.5" y="185.5" width="7" height="7" stroke="#1e821e" stroke-width="1" fill="none"/><rect x="183.5" y="188.5" width="1" height="1" fill="#1e821e" opacity="0.5"/><rect x="180.5" y="195.5" width="7" height="7" stroke="#1e821e" stroke-width="1" fill="none"/><rect x="183.5" y="198.5" width="1" height="1" fill="#1e821e" opacity="0.5"/><path d="M63.96 203.6h7.2M67.56 200v7.2M64.46 200.5l6.2 6.2M64.46 206.7l6.2 -6.2" stroke="#ff0000" stroke-width="0.85" fill="none"/><path d="M93.03 186.4h7.2M96.63 182.8v7.2M93.53 183.3l6.2 6.2M93.53 189.5l6.2 -6.2" stroke="#ff0000" stroke-width="0.85" fill="none"/><path d="M93.03 194.9h7.2M96.63 191.3v7.2M93.53 191.8l6.2 6.2M93.53 198l6.2 -6.2" stroke="#ff0000" stroke-width="0.85" fill="none"/><path d="M93.03 196.2h7.2M96.63 192.6v7.2M93.53 193.1l6.2 6.2M93.53 199.3l6.2 -6.2" stroke="#ff0000" stroke-width="0.85" fill="none"/><path d="M93.03 197.2h7.2M96.63 193.6v7.2M93.53 194.1l6.2 6.2M93.53 200.3l6.2 -6.2" stroke="#ff0000" stroke-width="0.85" fill="none"/><path d="M122.1 174.7h7.2M125.7 171.1v7.2M122.6 171.6l6.2 6.2M122.6 177.8l6.2 -6.2" stroke="#ff0000" stroke-width="0.85" fill="none"/><path d="M122.1 184h7.2M125.7 180.4v7.2M122.6 180.9l6.2 6.2M122.6 187.1l6.2 -6.2" stroke="#ff0000" stroke-width="0.85" fill="none"/><path d="M122.1 191h7.2M125.7 187.4v7.2M122.6 187.9l6.2 6.2M122.6 194.1l6.2 -6.2" stroke="#ff0000" stroke-width="0.85" fill="none"/><path d="M151.18 163.1h7.2M154.78 159.5v7.2M151.68 160l6.2 6.2M151.68 166.2l6.2 -6.2" stroke="#ff0000" stroke-width="0.85" fill="none"/><path d="M151.18 173.2h7.2M154.78 169.6v7.2M151.68 170.1l6.2 6.2M151.68 176.3l6.2 -6.2" stroke="#ff0000" stroke-width="0.85" fill="none"/><path d="M151.18 183.6h7.2M154.78 180v7.2M151.68 180.5l6.2 6.2M151.68 186.7l6.2 -6.2" stroke="#ff0000" stroke-width="0.85" fill="none"/><path d="M180.25 155.4h7.2M183.85 151.8v7.2M180.75 152.3l6.2 6.2M180.75 158.5l6.2 -6.2" stroke="#ff0000" stroke-width="0.85" fill="none"/><path d="M180.25 163.3h7.2M183.85 159.7v7.2M180.75 160.2l6.2 6.2M180.75 166.4l6.2 -6.2" stroke="#ff0000" stroke-width="0.85" fill="none"/><path d="M180.25 179h7.2M183.85 175.4v7.2M180.75 175.9l6.2 6.2M180.75 182.1l6.2 -6.2" stroke="#ff0000" stroke-width="0.85" fill="none"/><path d="M209.32 155.4h7.2M212.92 151.8v7.2M209.82 152.3l6.2 6.2M209.82 158.5l6.2 -6.2" stroke="#ff0000" stroke-width="0.85" fill="none"/><path d="M209.32 158.4h7.2M212.92 154.8v7.2M209.82 155.3l6.2 6.2M209.82 161.5l6.2 -6.2" stroke="#ff0000" stroke-width="0.85" fill="none"/><path d="M209.32 175.3h7.2M212.92 171.7v7.2M209.82 172.2l6.2 6.2M209.82 178.4l6.2 -6.2" stroke="#ff0000" stroke-width="0.85" fill="none"/><path d="M238.4 147.3h7.2M242 143.7v7.2M238.9 144.2l6.2 6.2M238.9 150.4l6.2 -6.2" stroke="#ff0000" stroke-width="0.85" fill="none"/><path d="M238.4 157.9h7.2M242 154.3v7.2M238.9 154.8l6.2 6.2M238.9 161l6.2 -6.2" stroke="#ff0000" stroke-width="0.85" fill="none"/><path d="M238.4 173.3h7.2M242 169.7v7.2M238.9 170.2l6.2 6.2M238.9 176.4l6.2 -6.2" stroke="#ff0000" stroke-width="0.85" fill="none"/><path d="M267.47 137.6h7.2M271.07 134v7.2M267.97 134.5l6.2 6.2M267.97 140.7l6.2 -6.2" stroke="#ff0000" stroke-width="0.85" fill="none"/><path d="M267.47 147.5h7.2M271.07 143.9v7.2M267.97 144.4l6.2 6.2M267.97 150.6l6.2 -6.2" stroke="#ff0000" stroke-width="0.85" fill="none"/><path d="M267.47 167h7.2M271.07 163.4v7.2M267.97 163.9l6.2 6.2M267.97 170.1l6.2 -6.2" stroke="#ff0000" stroke-width="0.85" fill="none"/><path d="M296.54 131.7h7.2M300.14 128.1v7.2M297.04 128.6l6.2 6.2M297.04 134.8l6.2 -6.2" stroke="#ff0000" stroke-width="0.85" fill="none"/><path d="M296.54 141h7.2M300.14 137.4v7.2M297.04 137.9l6.2 6.2M297.04 144.1l6.2 -6.2" stroke="#ff0000" stroke-width="0.85" fill="none"/><path d="M296.54 162.9h7.2M300.14 159.3v7.2M297.04 159.8l6.2 6.2M297.04 166l6.2 -6.2" stroke="#ff0000" stroke-width="0.85" fill="none"/><circle cx="412.85" cy="201.2" r="3.65" stroke="#1a1aff" stroke-width="0.9" fill="none"/><rect x="412.25" y="200.8" width="1.2" height="0.8" fill="#1a1aff" opacity="0.6"/><circle cx="441.91" cy="193.4" r="3.65" stroke="#1a1aff" stroke-width="0.9" fill="none"/><rect x="441.31" y="193" width="1.2" height="0.8" fill="#1a1aff" opacity="0.6"/><circle cx="441.91" cy="195.8" r="3.65" stroke="#1a1aff" stroke-width="0.9" fill="none"/><rect x="441.31" y="195.4" width="1.2" height="0.8" fill="#1a1aff" opacity="0.6"/><circle cx="441.91" cy="198" r="3.65" stroke="#1a1aff" stroke-width="0.9" fill="none"/><rect x="441.31" y="197.6" width="1.2" height="0.8" fill="#1a1aff" opacity="0.6"/><circle cx="470.98" cy="183.9" r="3.65" stroke="#1a1aff" stroke-width="0.9" fill="none"/><rect x="470.38" y="183.5" width="1.2" height="0.8" fill="#1a1aff" opacity="0.6"/><circle cx="470.98" cy="189.8" r="3.65" stroke="#1a1aff" stroke-width="0.9" fill="none"/><rect x="470.38" y="189.4" width="1.2" height="0.8" fill="#1a1aff" opacity="0.6"/><circle cx="470.98" cy="192.4" r="3.65" stroke="#1a1aff" stroke-width="0.9" fill="none"/><rect x="470.38" y="192" width="1.2" height="0.8" fill="#1a1aff" opacity="0.6"/><circle cx="470.98" cy="195.5" r="3.65" stroke="#1a1aff" stroke-width="0.9" fill="none"/><rect x="470.38" y="195.1" width="1.2" height="0.8" fill="#1a1aff" opacity="0.6"/><circle cx="500.04" cy="176.6" r="3.65" stroke="#1a1aff" stroke-width="0.9" fill="none"/><rect x="499.44" y="176.2" width="1.2" height="0.8" fill="#1a1aff" opacity="0.6"/><circle cx="500.04" cy="184.3" r="3.65" stroke="#1a1aff" stroke-width="0.9" fill="none"/><rect x="499.44" y="183.9" width="1.2" height="0.8" fill="#1a1aff" opacity="0.6"/><circle cx="500.04" cy="186.8" r="3.65" stroke="#1a1aff" stroke-width="0.9" fill="none"/><rect x="499.44" y="186.4" width="1.2" height="0.8" fill="#1a1aff" opacity="0.6"/><circle cx="500.04" cy="194.2" r="3.65" stroke="#1a1aff" stroke-width="0.9" fill="none"/><rect x="499.44" y="193.8" width="1.2" height="0.8" fill="#1a1aff" opacity="0.6"/><circle cx="529.1" cy="168.8" r="3.65" stroke="#1a1aff" stroke-width="0.9" fill="none"/><rect x="528.5" y="168.4" width="1.2" height="0.8" fill="#1a1aff" opacity="0.6"/><circle cx="529.1" cy="178.3" r="3.65" stroke="#1a1aff" stroke-width="0.9" fill="none"/><rect x="528.5" y="177.9" width="1.2" height="0.8" fill="#1a1aff" opacity="0.6"/><circle cx="529.1" cy="182.6" r="3.65" stroke="#1a1aff" stroke-width="0.9" fill="none"/><rect x="528.5" y="182.2" width="1.2" height="0.8" fill="#1a1aff" opacity="0.6"/><circle cx="529.1" cy="191" r="3.65" stroke="#1a1aff" stroke-width="0.9" fill="none"/><rect x="528.5" y="190.6" width="1.2" height="0.8" fill="#1a1aff" opacity="0.6"/><circle cx="558.16" cy="162.4" r="3.65" stroke="#1a1aff" stroke-width="0.9" fill="none"/><rect x="557.56" y="162" width="1.2" height="0.8" fill="#1a1aff" opacity="0.6"/><circle cx="558.16" cy="175.2" r="3.65" stroke="#1a1aff" stroke-width="0.9" fill="none"/><rect x="557.56" y="174.8" width="1.2" height="0.8" fill="#1a1aff" opacity="0.6"/><circle cx="558.16" cy="179.4" r="3.65" stroke="#1a1aff" stroke-width="0.9" fill="none"/><rect x="557.56" y="179" width="1.2" height="0.8" fill="#1a1aff" opacity="0.6"/><circle cx="558.16" cy="188.9" r="3.65" stroke="#1a1aff" stroke-width="0.9" fill="none"/><rect x="557.56" y="188.5" width="1.2" height="0.8" fill="#1a1aff" opacity="0.6"/><circle cx="587.23" cy="157.5" r="3.65" stroke="#1a1aff" stroke-width="0.9" fill="none"/><rect x="586.62" y="157.1" width="1.2" height="0.8" fill="#1a1aff" opacity="0.6"/><circle cx="587.23" cy="170.9" r="3.65" stroke="#1a1aff" stroke-width="0.9" fill="none"/><rect x="586.62" y="170.5" width="1.2" height="0.8" fill="#1a1aff" opacity="0.6"/><circle cx="587.23" cy="174.5" r="3.65" stroke="#1a1aff" stroke-width="0.9" fill="none"/><rect x="586.62" y="174.1" width="1.2" height="0.8" fill="#1a1aff" opacity="0.6"/><circle cx="587.23" cy="186.8" r="3.65" stroke="#1a1aff" stroke-width="0.9" fill="none"/><rect x="586.62" y="186.4" width="1.2" height="0.8" fill="#1a1aff" opacity="0.6"/><circle cx="616.29" cy="149.9" r="3.65" stroke="#1a1aff" stroke-width="0.9" fill="none"/><rect x="615.69" y="149.5" width="1.2" height="0.8" fill="#1a1aff" opacity="0.6"/><circle cx="616.29" cy="166.1" r="3.65" stroke="#1a1aff" stroke-width="0.9" fill="none"/><rect x="615.69" y="165.7" width="1.2" height="0.8" fill="#1a1aff" opacity="0.6"/><circle cx="616.29" cy="170.9" r="3.65" stroke="#1a1aff" stroke-width="0.9" fill="none"/><rect x="615.69" y="170.5" width="1.2" height="0.8" fill="#1a1aff" opacity="0.6"/><circle cx="616.29" cy="183.5" r="3.65" stroke="#1a1aff" stroke-width="0.9" fill="none"/><rect x="615.69" y="183.1" width="1.2" height="0.8" fill="#1a1aff" opacity="0.6"/><circle cx="645.35" cy="142.4" r="3.65" stroke="#1a1aff" stroke-width="0.9" fill="none"/><rect x="644.75" y="142" width="1.2" height="0.8" fill="#1a1aff" opacity="0.6"/><circle cx="645.35" cy="162.5" r="3.65" stroke="#1a1aff" stroke-width="0.9" fill="none"/><rect x="644.75" y="162.1" width="1.2" height="0.8" fill="#1a1aff" opacity="0.6"/><circle cx="645.35" cy="167.3" r="3.65" stroke="#1a1aff" stroke-width="0.9" fill="none"/><rect x="644.75" y="166.9" width="1.2" height="0.8" fill="#1a1aff" opacity="0.6"/><circle cx="645.35" cy="181.5" r="3.65" stroke="#1a1aff" stroke-width="0.9" fill="none"/><rect x="644.75" y="181.1" width="1.2" height="0.8" fill="#1a1aff" opacity="0.6"/><path d="M412.85 212L416.45 215.6L412.85 219.2L409.25 215.6Z" fill="#000000"/><path d="M441.91 203.2L445.51 206.8L441.91 210.4L438.31 206.8Z" fill="#000000"/><path d="M441.91 206.6L445.51 210.2L441.91 213.8L438.31 210.2Z" fill="#000000"/><path d="M441.91 209.7L445.51 213.3L441.91 216.9L438.31 213.3Z" fill="#000000"/><path d="M470.98 194L474.58 197.6L470.98 201.2L467.38 197.6Z" fill="#000000"/><path d="M470.98 202.5L474.58 206.1L470.98 209.7L467.38 206.1Z" fill="#000000"/><path d="M470.98 204.4L474.58 208L470.98 211.6L467.38 208Z" fill="#000000"/><path d="M470.98 208.9L474.58 212.5L470.98 216.1L467.38 212.5Z" fill="#000000"/><path d="M500.04 188.3L503.64 191.9L500.04 195.5L496.44 191.9Z" fill="#000000"/><path d="M500.04 197.6L503.64 201.2L500.04 204.8L496.44 201.2Z" fill="#000000"/><path d="M500.04 198.9L503.64 202.5L500.04 206.1L496.44 202.5Z" fill="#000000"/><path d="M500.04 206.8L503.64 210.4L500.04 214L496.44 210.4Z" fill="#000000"/><path d="M529.1 182.4L532.7 186L529.1 189.6L525.5 186Z" fill="#000000"/><path d="M529.1 193.4L532.7 197L529.1 200.6L525.5 197Z" fill="#000000"/><path d="M529.1 196.2L532.7 199.8L529.1 203.4L525.5 199.8Z" fill="#000000"/><path d="M529.1 205.3L532.7 208.9L529.1 212.5L525.5 208.9Z" fill="#000000"/><path d="M558.16 172.2L561.76 175.8L558.16 179.4L554.56 175.8Z" fill="#000000"/><path d="M558.16 187.7L561.76 191.3L558.16 194.9L554.56 191.3Z" fill="#000000"/><path d="M558.16 191.9L561.76 195.5L558.16 199.1L554.56 195.5Z" fill="#000000"/><path d="M558.16 203.2L561.76 206.8L558.16 210.4L554.56 206.8Z" fill="#000000"/><path d="M587.23 162.3L590.83 165.9L587.23 169.5L583.62 165.9Z" fill="#000000"/><path d="M587.23 181.3L590.83 184.9L587.23 188.5L583.62 184.9Z" fill="#000000"/><path d="M587.23 186.9L590.83 190.5L587.23 194.1L583.62 190.5Z" fill="#000000"/><path d="M587.23 201.4L590.83 205L587.23 208.6L583.62 205Z" fill="#000000"/><path d="M616.29 158.1L619.89 161.7L616.29 165.3L612.69 161.7Z" fill="#000000"/><path d="M616.29 179.1L619.89 182.7L616.29 186.3L612.69 182.7Z" fill="#000000"/><path d="M616.29 185.2L619.89 188.8L616.29 192.4L612.69 188.8Z" fill="#000000"/><path d="M616.29 200L619.89 203.6L616.29 207.2L612.69 203.6Z" fill="#000000"/><path d="M645.35 154.5L648.95 158.1L645.35 161.7L641.75 158.1Z" fill="#000000"/><path d="M645.35 176.8L648.95 180.4L645.35 184L641.75 180.4Z" fill="#000000"/><path d="M645.35 183.2L648.95 186.8L645.35 190.4L641.75 186.8Z" fill="#000000"/><path d="M645.35 198.6L648.95 202.2L645.35 205.8L641.75 202.2Z" fill="#000000"/><rect x="64.5" y="296.5" width="7" height="7" stroke="#1e821e" stroke-width="1" fill="none"/><rect x="67.5" y="299.5" width="1" height="1" fill="#1e821e" opacity="0.5"/><rect x="93.5" y="292.5" width="7" height="7" stroke="#1e821e" stroke-width="1" fill="none"/><rect x="96.5" y="295.5" width="1" height="1" fill="#1e821e" opacity="0.5"/><rect x="93.5" y="294.5" width="7" height="7" stroke="#1e821e" stroke-width="1" fill="none"/><rect x="96.5" y="297.5" width="1" height="1" fill="#1e821e" opacity="0.5"/><rect x="93.5" y="296.5" width="7" height="7" stroke="#1e821e" stroke-width="1" fill="none"/><rect x="96.5" y="299.5" width="1" height="1" fill="#1e821e" opacity="0.5"/><rect x="93.5" y="300.5" width="7" height="7" stroke="#1e821e" stroke-width="1" fill="none"/><rect x="96.5" y="303.5" width="1" height="1" fill="#1e821e" opacity="0.5"/><rect x="122.5" y="284.5" width="7" height="7" stroke="#1e821e" stroke-width="1" fill="none"/><rect x="125.5" y="287.5" width="1" height="1" fill="#1e821e" opacity="0.5"/><rect x="122.5" y="290.5" width="7" height="7" stroke="#1e821e" stroke-width="1" fill="none"/><rect x="125.5" y="293.5" width="1" height="1" fill="#1e821e" opacity="0.5"/><rect x="122.5" y="292.5" width="7" height="7" stroke="#1e821e" stroke-width="1" fill="none"/><rect x="125.5" y="295.5" width="1" height="1" fill="#1e821e" opacity="0.5"/><rect x="122.5" y="299.5" width="7" height="7" stroke="#1e821e" stroke-width="1" fill="none"/><rect x="125.5" y="302.5" width="1" height="1" fill="#1e821e" opacity="0.5"/><rect x="151.5" y="275.5" width="7" height="7" stroke="#1e821e" stroke-width="1" fill="none"/><rect x="154.5" y="278.5" width="1" height="1" fill="#1e821e" opacity="0.5"/><rect x="151.5" y="284.5" width="7" height="7" stroke="#1e821e" stroke-width="1" fill="none"/><rect x="154.5" y="287.5" width="1" height="1" fill="#1e821e" opacity="0.5"/><rect x="151.5" y="291.5" width="7" height="7" stroke="#1e821e" stroke-width="1" fill="none"/><rect x="154.5" y="294.5" width="1" height="1" fill="#1e821e" opacity="0.5"/><rect x="151.5" y="300.5" width="7" height="7" stroke="#1e821e" stroke-width="1" fill="none"/><rect x="154.5" y="303.5" width="1" height="1" fill="#1e821e" opacity="0.5"/><rect x="180.5" y="268.5" width="7" height="7" stroke="#1e821e" stroke-width="1" fill="none"/><rect x="183.5" y="271.5" width="1" height="1" fill="#1e821e" opacity="0.5"/><rect x="180.5" y="274.5" width="7" height="7" stroke="#1e821e" stroke-width="1" fill="none"/><rect x="183.5" y="277.5" width="1" height="1" fill="#1e821e" opacity="0.5"/><rect x="180.5" y="284.5" width="7" height="7" stroke="#1e821e" stroke-width="1" fill="none"/><rect x="183.5" y="287.5" width="1" height="1" fill="#1e821e" opacity="0.5"/><rect x="180.5" y="299.5" width="7" height="7" stroke="#1e821e" stroke-width="1" fill="none"/><rect x="183.5" y="302.5" width="1" height="1" fill="#1e821e" opacity="0.5"/><path d="M63.96 279.8h7.2M67.56 276.2v7.2M64.46 276.7l6.2 6.2M64.46 282.9l6.2 -6.2" stroke="#ff0000" stroke-width="0.85" fill="none"/><path d="M93.03 276.7h7.2M96.63 273.1v7.2M93.53 273.6l6.2 6.2M93.53 279.8l6.2 -6.2" stroke="#ff0000" stroke-width="0.85" fill="none"/><path d="M93.03 278.3h7.2M96.63 274.7v7.2M93.53 275.2l6.2 6.2M93.53 281.4l6.2 -6.2" stroke="#ff0000" stroke-width="0.85" fill="none"/><path d="M93.03 279.8h7.2M96.63 276.2v7.2M93.53 276.7l6.2 6.2M93.53 282.9l6.2 -6.2" stroke="#ff0000" stroke-width="0.85" fill="none"/><path d="M122.1 271.3h7.2M125.7 267.7v7.2M122.6 268.2l6.2 6.2M122.6 274.4l6.2 -6.2" stroke="#ff0000" stroke-width="0.85" fill="none"/><path d="M122.1 273.6h7.2M125.7 270v7.2M122.6 270.5l6.2 6.2M122.6 276.7l6.2 -6.2" stroke="#ff0000" stroke-width="0.85" fill="none"/><path d="M122.1 279.8h7.2M125.7 276.2v7.2M122.6 276.7l6.2 6.2M122.6 282.9l6.2 -6.2" stroke="#ff0000" stroke-width="0.85" fill="none"/><path d="M151.18 267.8h7.2M154.78 264.2v7.2M151.68 264.7l6.2 6.2M151.68 270.9l6.2 -6.2" stroke="#ff0000" stroke-width="0.85" fill="none"/><path d="M151.18 270.2h7.2M154.78 266.6v7.2M151.68 267.1l6.2 6.2M151.68 273.3l6.2 -6.2" stroke="#ff0000" stroke-width="0.85" fill="none"/><path d="M151.18 280.2h7.2M154.78 276.6v7.2M151.68 277.1l6.2 6.2M151.68 283.3l6.2 -6.2" stroke="#ff0000" stroke-width="0.85" fill="none"/><path d="M180.25 264.7h7.2M183.85 261.1v7.2M180.75 261.6l6.2 6.2M180.75 267.8l6.2 -6.2" stroke="#ff0000" stroke-width="0.85" fill="none"/><path d="M180.25 281.8h7.2M183.85 278.2v7.2M180.75 278.7l6.2 6.2M180.75 284.9l6.2 -6.2" stroke="#ff0000" stroke-width="0.85" fill="none"/><path d="M209.32 261.7h7.2M212.92 258.1v7.2M209.82 258.6l6.2 6.2M209.82 264.8l6.2 -6.2" stroke="#ff0000" stroke-width="0.85" fill="none"/><path d="M209.32 267.3h7.2M212.92 263.7v7.2M209.82 264.2l6.2 6.2M209.82 270.4l6.2 -6.2" stroke="#ff0000" stroke-width="0.85" fill="none"/><path d="M209.32 282.2h7.2M212.92 278.6v7.2M209.82 279.1l6.2 6.2M209.82 285.3l6.2 -6.2" stroke="#ff0000" stroke-width="0.85" fill="none"/><path d="M238.4 259.8h7.2M242 256.2v7.2M238.9 256.7l6.2 6.2M238.9 262.9l6.2 -6.2" stroke="#ff0000" stroke-width="0.85" fill="none"/><path d="M238.4 260.8h7.2M242 257.2v7.2M238.9 257.7l6.2 6.2M238.9 263.9l6.2 -6.2" stroke="#ff0000" stroke-width="0.85" fill="none"/><path d="M238.4 266.3h7.2M242 262.7v7.2M238.9 263.2l6.2 6.2M238.9 269.4l6.2 -6.2" stroke="#ff0000" stroke-width="0.85" fill="none"/><path d="M238.4 283.1h7.2M242 279.5v7.2M238.9 280l6.2 6.2M238.9 286.2l6.2 -6.2" stroke="#ff0000" stroke-width="0.85" fill="none"/><path d="M267.47 255.1h7.2M271.07 251.5v7.2M267.97 252l6.2 6.2M267.97 258.2l6.2 -6.2" stroke="#ff0000" stroke-width="0.85" fill="none"/><path d="M267.47 262.6h7.2M271.07 259v7.2M267.97 259.5l6.2 6.2M267.97 265.7l6.2 -6.2" stroke="#ff0000" stroke-width="0.85" fill="none"/><path d="M267.47 283.1h7.2M271.07 279.5v7.2M267.97 280l6.2 6.2M267.97 286.2l6.2 -6.2" stroke="#ff0000" stroke-width="0.85" fill="none"/><path d="M296.54 250.8h7.2M300.14 247.2v7.2M297.04 247.7l6.2 6.2M297.04 253.9l6.2 -6.2" stroke="#ff0000" stroke-width="0.85" fill="none"/><path d="M296.54 261.1h7.2M300.14 257.5v7.2M297.04 258l6.2 6.2M297.04 264.2l6.2 -6.2" stroke="#ff0000" stroke-width="0.85" fill="none"/><path d="M296.54 283.7h7.2M300.14 280.1v7.2M297.04 280.6l6.2 6.2M297.04 286.8l6.2 -6.2" stroke="#ff0000" stroke-width="0.85" fill="none"/><circle cx="412.85" cy="296.7" r="3.65" stroke="#1a1aff" stroke-width="0.9" fill="none"/><rect x="412.25" y="296.3" width="1.2" height="0.8" fill="#1a1aff" opacity="0.6"/><circle cx="441.91" cy="291.3" r="3.65" stroke="#1a1aff" stroke-width="0.9" fill="none"/><rect x="441.31" y="290.9" width="1.2" height="0.8" fill="#1a1aff" opacity="0.6"/><circle cx="441.91" cy="293.5" r="3.65" stroke="#1a1aff" stroke-width="0.9" fill="none"/><rect x="441.31" y="293.1" width="1.2" height="0.8" fill="#1a1aff" opacity="0.6"/><circle cx="441.91" cy="296.3" r="3.65" stroke="#1a1aff" stroke-width="0.9" fill="none"/><rect x="441.31" y="295.9" width="1.2" height="0.8" fill="#1a1aff" opacity="0.6"/><circle cx="470.98" cy="286.3" r="3.65" stroke="#1a1aff" stroke-width="0.9" fill="none"/><rect x="470.38" y="285.9" width="1.2" height="0.8" fill="#1a1aff" opacity="0.6"/><circle cx="470.98" cy="291" r="3.65" stroke="#1a1aff" stroke-width="0.9" fill="none"/><rect x="470.38" y="290.6" width="1.2" height="0.8" fill="#1a1aff" opacity="0.6"/><circle cx="470.98" cy="293" r="3.65" stroke="#1a1aff" stroke-width="0.9" fill="none"/><rect x="470.38" y="292.6" width="1.2" height="0.8" fill="#1a1aff" opacity="0.6"/><circle cx="470.98" cy="297.9" r="3.65" stroke="#1a1aff" stroke-width="0.9" fill="none"/><rect x="470.38" y="297.5" width="1.2" height="0.8" fill="#1a1aff" opacity="0.6"/><circle cx="500.04" cy="282.1" r="3.65" stroke="#1a1aff" stroke-width="0.9" fill="none"/><rect x="499.44" y="281.7" width="1.2" height="0.8" fill="#1a1aff" opacity="0.6"/><circle cx="500.04" cy="289.7" r="3.65" stroke="#1a1aff" stroke-width="0.9" fill="none"/><rect x="499.44" y="289.3" width="1.2" height="0.8" fill="#1a1aff" opacity="0.6"/><circle cx="500.04" cy="291.4" r="3.65" stroke="#1a1aff" stroke-width="0.9" fill="none"/><rect x="499.44" y="291" width="1.2" height="0.8" fill="#1a1aff" opacity="0.6"/><circle cx="500.04" cy="298.6" r="3.65" stroke="#1a1aff" stroke-width="0.9" fill="none"/><rect x="499.44" y="298.2" width="1.2" height="0.8" fill="#1a1aff" opacity="0.6"/><circle cx="529.1" cy="276.9" r="3.65" stroke="#1a1aff" stroke-width="0.9" fill="none"/><rect x="528.5" y="276.5" width="1.2" height="0.8" fill="#1a1aff" opacity="0.6"/><circle cx="529.1" cy="287.7" r="3.65" stroke="#1a1aff" stroke-width="0.9" fill="none"/><rect x="528.5" y="287.3" width="1.2" height="0.8" fill="#1a1aff" opacity="0.6"/><circle cx="529.1" cy="290.3" r="3.65" stroke="#1a1aff" stroke-width="0.9" fill="none"/><rect x="528.5" y="289.9" width="1.2" height="0.8" fill="#1a1aff" opacity="0.6"/><circle cx="529.1" cy="300.1" r="3.65" stroke="#1a1aff" stroke-width="0.9" fill="none"/><rect x="528.5" y="299.7" width="1.2" height="0.8" fill="#1a1aff" opacity="0.6"/><circle cx="558.16" cy="273.8" r="3.65" stroke="#1a1aff" stroke-width="0.9" fill="none"/><rect x="557.56" y="273.4" width="1.2" height="0.8" fill="#1a1aff" opacity="0.6"/><circle cx="558.16" cy="286.2" r="3.65" stroke="#1a1aff" stroke-width="0.9" fill="none"/><rect x="557.56" y="285.8" width="1.2" height="0.8" fill="#1a1aff" opacity="0.6"/><circle cx="558.16" cy="288.3" r="3.65" stroke="#1a1aff" stroke-width="0.9" fill="none"/><rect x="557.56" y="287.9" width="1.2" height="0.8" fill="#1a1aff" opacity="0.6"/><circle cx="558.16" cy="300.7" r="3.65" stroke="#1a1aff" stroke-width="0.9" fill="none"/><rect x="557.56" y="300.3" width="1.2" height="0.8" fill="#1a1aff" opacity="0.6"/><circle cx="587.23" cy="269.3" r="3.65" stroke="#1a1aff" stroke-width="0.9" fill="none"/><rect x="586.62" y="268.9" width="1.2" height="0.8" fill="#1a1aff" opacity="0.6"/><circle cx="587.23" cy="285.6" r="3.65" stroke="#1a1aff" stroke-width="0.9" fill="none"/><rect x="586.62" y="285.2" width="1.2" height="0.8" fill="#1a1aff" opacity="0.6"/><circle cx="587.23" cy="289.4" r="3.65" stroke="#1a1aff" stroke-width="0.9" fill="none"/><rect x="586.62" y="289" width="1.2" height="0.8" fill="#1a1aff" opacity="0.6"/><circle cx="587.23" cy="301.9" r="3.65" stroke="#1a1aff" stroke-width="0.9" fill="none"/><rect x="586.62" y="301.5" width="1.2" height="0.8" fill="#1a1aff" opacity="0.6"/><circle cx="616.29" cy="265.6" r="3.65" stroke="#1a1aff" stroke-width="0.9" fill="none"/><rect x="615.69" y="265.2" width="1.2" height="0.8" fill="#1a1aff" opacity="0.6"/><circle cx="616.29" cy="285.6" r="3.65" stroke="#1a1aff" stroke-width="0.9" fill="none"/><rect x="615.69" y="285.2" width="1.2" height="0.8" fill="#1a1aff" opacity="0.6"/><circle cx="616.29" cy="288.9" r="3.65" stroke="#1a1aff" stroke-width="0.9" fill="none"/><rect x="615.69" y="288.5" width="1.2" height="0.8" fill="#1a1aff" opacity="0.6"/><circle cx="616.29" cy="302.6" r="3.65" stroke="#1a1aff" stroke-width="0.9" fill="none"/><rect x="615.69" y="302.2" width="1.2" height="0.8" fill="#1a1aff" opacity="0.6"/><circle cx="645.35" cy="261.3" r="3.65" stroke="#1a1aff" stroke-width="0.9" fill="none"/><rect x="644.75" y="260.9" width="1.2" height="0.8" fill="#1a1aff" opacity="0.6"/><circle cx="645.35" cy="280.3" r="3.65" stroke="#1a1aff" stroke-width="0.9" fill="none"/><rect x="644.75" y="279.9" width="1.2" height="0.8" fill="#1a1aff" opacity="0.6"/><circle cx="645.35" cy="287.6" r="3.65" stroke="#1a1aff" stroke-width="0.9" fill="none"/><rect x="644.75" y="287.2" width="1.2" height="0.8" fill="#1a1aff" opacity="0.6"/><circle cx="645.35" cy="302.3" r="3.65" stroke="#1a1aff" stroke-width="0.9" fill="none"/><rect x="644.75" y="301.9" width="1.2" height="0.8" fill="#1a1aff" opacity="0.6"/><path d="M412.85 312.6L416.45 316.2L412.85 319.8L409.25 316.2Z" fill="#000000"/><path d="M441.91 307.6L445.51 311.2L441.91 314.8L438.31 311.2Z" fill="#000000"/><path d="M441.91 309.7L445.51 313.3L441.91 316.9L438.31 313.3Z" fill="#000000"/><path d="M441.91 311.6L445.51 315.2L441.91 318.8L438.31 315.2Z" fill="#000000"/><path d="M470.98 301.8L474.58 305.4L470.98 309L467.38 305.4Z" fill="#000000"/><path d="M470.98 308.6L474.58 312.2L470.98 315.8L467.38 312.2Z" fill="#000000"/><path d="M470.98 310.6L474.58 314.2L470.98 317.8L467.38 314.2Z" fill="#000000"/><path d="M470.98 314.8L474.58 318.4L470.98 322L467.38 318.4Z" fill="#000000"/><path d="M500.04 297.7L503.64 301.3L500.04 304.9L496.44 301.3Z" fill="#000000"/><path d="M500.04 307.4L503.64 311L500.04 314.6L496.44 311Z" fill="#000000"/><path d="M500.04 308.5L503.64 312.1L500.04 315.7L496.44 312.1Z" fill="#000000"/><path d="M500.04 315.7L503.64 319.3L500.04 322.9L496.44 319.3Z" fill="#000000"/><path d="M529.1 294.4L532.7 298L529.1 301.6L525.5 298Z" fill="#000000"/><path d="M529.1 305.4L532.7 309L529.1 312.6L525.5 309Z" fill="#000000"/><path d="M529.1 308.1L532.7 311.7L529.1 315.3L525.5 311.7Z" fill="#000000"/><path d="M529.1 316.7L532.7 320.3L529.1 323.9L525.5 320.3Z" fill="#000000"/><path d="M558.16 287.8L561.76 291.4L558.16 295L554.56 291.4Z" fill="#000000"/><path d="M558.16 302.7L561.76 306.3L558.16 309.9L554.56 306.3Z" fill="#000000"/><path d="M558.16 307.4L561.76 311L558.16 314.6L554.56 311Z" fill="#000000"/><path d="M558.16 318.4L561.76 322L558.16 325.6L554.56 322Z" fill="#000000"/><path d="M587.23 280L590.83 283.6L587.23 287.2L583.62 283.6Z" fill="#000000"/><path d="M587.23 300.1L590.83 303.7L587.23 307.3L583.62 303.7Z" fill="#000000"/><path d="M587.23 305.8L590.83 309.4L587.23 313L583.62 309.4Z" fill="#000000"/><path d="M587.23 319.1L590.83 322.7L587.23 326.3L583.62 322.7Z" fill="#000000"/><path d="M616.29 278.2L619.89 281.8L616.29 285.4L612.69 281.8Z" fill="#000000"/><path d="M616.29 299L619.89 302.6L616.29 306.2L612.69 302.6Z" fill="#000000"/><path d="M616.29 305.8L619.89 309.4L616.29 313L612.69 309.4Z" fill="#000000"/><path d="M616.29 320.9L619.89 324.5L616.29 328.1L612.69 324.5Z" fill="#000000"/><path d="M645.35 275.7L648.95 279.3L645.35 282.9L641.75 279.3Z" fill="#000000"/><path d="M645.35 299L648.95 302.6L645.35 306.2L641.75 302.6Z" fill="#000000"/><path d="M645.35 305.8L648.95 309.4L645.35 313L641.75 309.4Z" fill="#000000"/><path d="M645.35 322.1L648.95 325.7L645.35 329.3L641.75 325.7Z" fill="#000000"/><g font-family="Liberation Sans, sans-serif"><text x="58.4" y="77.91" fill="#ff0000" stroke="#ff0000" font-size="10.3" text-anchor="middle">Al</text><text x="58.4" y="98.41" fill="#1e821e" stroke="#1e821e" font-size="10.3" text-anchor="middle">Al</text><text x="58.4" y="196.81" fill="#ff0000" stroke="#ff0000" font-size="10.3" text-anchor="middle">Ga</text><text x="58.4" y="228.11" fill="#1e821e" stroke="#1e821e" font-size="10.3" text-anchor="middle">Ga</text><text x="58.4" y="275.51" fill="#ff0000" stroke="#ff0000" font-size="10.3" text-anchor="middle">In</text><text x="58.4" y="313.31" fill="#1e821e" stroke="#1e821e" font-size="10.3" text-anchor="middle">In</text><text x="313" y="16.41" fill="#ff0000" stroke="#ff0000" font-size="10.3" text-anchor="middle">Y</text><text x="313" y="26.01" fill="#ff0000" stroke="#ff0000" font-size="10.3" text-anchor="middle">Lu</text><text x="313" y="47.81" fill="#ff0000" stroke="#ff0000" font-size="10.3" text-anchor="middle">Sc</text><text x="313" y="135.41" fill="#ff0000" stroke="#ff0000" font-size="10.3" text-anchor="middle">Y</text><text x="313" y="144.71" fill="#ff0000" stroke="#ff0000" font-size="10.3" text-anchor="middle">Lu</text><text x="313" y="166.61" fill="#ff0000" stroke="#ff0000" font-size="10.3" text-anchor="middle">Sc</text><text x="313" y="254.51" fill="#ff0000" stroke="#ff0000" font-size="10.3" text-anchor="middle">Y</text><text x="313" y="264.81" fill="#ff0000" stroke="#ff0000" font-size="10.3" text-anchor="middle">Lu</text><text x="313" y="287.61" fill="#ff0000" stroke="#ff0000" font-size="10.3" text-anchor="middle">Sc</text><text x="199.5" y="60.51" fill="#1e821e" stroke="#1e821e" font-size="10.3" text-anchor="middle">La</text><text x="199.5" y="70.01" fill="#1e821e" stroke="#1e821e" font-size="10.3" text-anchor="middle">Y</text><text x="199.5" y="80.01" fill="#1e821e" stroke="#1e821e" font-size="10.3" text-anchor="middle">Lu</text><text x="199.5" y="90.01" fill="#1e821e" stroke="#1e821e" font-size="10.3" text-anchor="middle">Sc</text><text x="199.5" y="177.11" fill="#1e821e" stroke="#1e821e" font-size="10.3" text-anchor="middle">La</text><text x="199.5" y="187.01" fill="#1e821e" stroke="#1e821e" font-size="10.3" text-anchor="middle">Y</text><text x="199.5" y="196.31" fill="#1e821e" stroke="#1e821e" font-size="10.3" text-anchor="middle">Lu</text><text x="199.5" y="206.11" fill="#1e821e" stroke="#1e821e" font-size="10.3" text-anchor="middle">Sc</text><text x="199.5" y="269.21" fill="#1e821e" stroke="#1e821e" font-size="10.3" text-anchor="middle">La</text><text x="199.5" y="280.81" fill="#1e821e" stroke="#1e821e" font-size="10.3" text-anchor="middle">Y</text><text x="199.5" y="295.61" fill="#1e821e" stroke="#1e821e" font-size="10.3" text-anchor="middle">Lu</text><text x="199.5" y="308.71" fill="#1e821e" stroke="#1e821e" font-size="10.3" text-anchor="middle">Sc</text><text x="399.8" y="87.11" fill="#1a1aff" stroke="#1a1aff" font-size="10.3" text-anchor="middle">Al</text><text x="398.9" y="105.81" fill="#111" stroke="#111" font-size="10.3" text-anchor="middle">Al</text><text x="402.2" y="196.71" fill="#1a1aff" stroke="#1a1aff" font-size="10.3" text-anchor="middle">Ga</text><text x="401.5" y="224.21" fill="#111" stroke="#111" font-size="10.3" text-anchor="middle">Ga</text><text x="402" y="292.31" fill="#1a1aff" stroke="#1a1aff" font-size="10.3" text-anchor="middle">In</text><text x="401.9" y="328.81" fill="#111" stroke="#111" font-size="10.3" text-anchor="middle">In</text><text x="633.5" y="20.31" fill="#1a1aff" stroke="#1a1aff" font-size="10.3" text-anchor="middle">La</text><text x="633.5" y="39.01" fill="#1a1aff" stroke="#1a1aff" font-size="10.3" text-anchor="middle">Y</text><text x="633.5" y="59.91" fill="#1a1aff" stroke="#1a1aff" font-size="10.3" text-anchor="middle">Lu</text><text x="633.5" y="76.71" fill="#1a1aff" stroke="#1a1aff" font-size="10.3" text-anchor="middle">Sc</text><text x="633.5" y="137.51" fill="#1a1aff" stroke="#1a1aff" font-size="10.3" text-anchor="middle">La</text><text x="633.5" y="154.81" fill="#1a1aff" stroke="#1a1aff" font-size="10.3" text-anchor="middle">Y</text><text x="633.5" y="178.51" fill="#1a1aff" stroke="#1a1aff" font-size="10.3" text-anchor="middle">Lu</text><text x="633.5" y="195.31" fill="#1a1aff" stroke="#1a1aff" font-size="10.3" text-anchor="middle">Sc</text><text x="633.5" y="256.71" fill="#1a1aff" stroke="#1a1aff" font-size="10.3" text-anchor="middle">La</text><text x="633.5" y="276.71" fill="#1a1aff" stroke="#1a1aff" font-size="10.3" text-anchor="middle">Y</text><text x="633.5" y="299.81" fill="#1a1aff" stroke="#1a1aff" font-size="10.3" text-anchor="middle">Lu</text><text x="633.5" y="316.91" fill="#1a1aff" stroke="#1a1aff" font-size="10.3" text-anchor="middle">Sc</text><text x="658" y="43.21" fill="#111" stroke="#111" font-size="10.3" text-anchor="middle">La</text><text x="658" y="64.11" fill="#111" stroke="#111" font-size="10.3" text-anchor="middle">Y</text><text x="658" y="72.81" fill="#111" stroke="#111" font-size="10.3" text-anchor="middle">Lu</text><text x="658" y="87.41" fill="#111" stroke="#111" font-size="10.3" text-anchor="middle">Sc</text><text x="658" y="162.31" fill="#111" stroke="#111" font-size="10.3" text-anchor="middle">La</text><text x="658" y="183.61" fill="#111" stroke="#111" font-size="10.3" text-anchor="middle">Y</text><text x="658" y="192.51" fill="#111" stroke="#111" font-size="10.3" text-anchor="middle">Lu</text><text x="658" y="206.51" fill="#111" stroke="#111" font-size="10.3" text-anchor="middle">Sc</text><text x="658" y="283.01" fill="#111" stroke="#111" font-size="10.3" text-anchor="middle">La</text><text x="658" y="305.61" fill="#111" stroke="#111" font-size="10.3" text-anchor="middle">Y</text><text x="658" y="313.91" fill="#111" stroke="#111" font-size="10.3" text-anchor="middle">Lu</text><text x="658" y="329.41" fill="#111" stroke="#111" font-size="10.3" text-anchor="middle">Sc</text><text x="63.5" y="18.01" fill="#111" stroke="#111" font-size="10.3" text-anchor="end">BN</text><text x="63.5" y="28.31" fill="#111" stroke="#111" font-size="10.3" text-anchor="end">WZ</text><path d="M81.3 15h7.2M84.9 11.4v7.2M81.8 11.9l6.2 6.2M81.8 18.1l6.2 -6.2" stroke="#ff0000" stroke-width="0.85" fill="none"/><rect x="81.5" y="21.5" width="7" height="7" stroke="#1e821e" stroke-width="1" fill="none"/><rect x="84.5" y="24.5" width="1" height="1" fill="#1e821e" opacity="0.5"/><text x="408.8" y="18.01" fill="#111" stroke="#111" font-size="10.3" text-anchor="end">RS</text><text x="408.8" y="29.01" fill="#111" stroke="#111" font-size="10.3" text-anchor="end">ZB</text><path d="M428.8 11.3L432.4 14.9L428.8 18.5L425.2 14.9Z" fill="#000000"/><circle cx="428.8" cy="25.5" r="3.65" stroke="#1a1aff" stroke-width="0.9" fill="none"/><rect x="428.2" y="25.1" width="1.2" height="0.8" fill="#1a1aff" opacity="0.6"/><text x="0.6" y="14.4" font-size="12.8" fill="#222" stroke="#222">(a)</text><text x="345.4" y="11.9" font-size="12.8" fill="#222" stroke="#222">(b)</text></g><g transform="translate(14.8 59.05) rotate(-90)"><text x="0" y="0" text-anchor="middle" fill="#222" stroke="#222"><tspan font-family="Liberation Serif, serif" font-style="italic" font-size="11.5">a</tspan><tspan font-family="Liberation Sans, sans-serif" font-size="10"> (Å)</tspan></text></g><g transform="translate(360 59.05) rotate(-90)"><text x="0" y="0" text-anchor="middle" fill="#222" stroke="#222"><tspan font-family="Liberation Serif, serif" font-style="italic" font-size="11.5">a</tspan><tspan font-family="Liberation Sans, sans-serif" font-size="10"> (Å)</tspan></text></g><g transform="translate(14.8 178) rotate(-90)"><text x="0" y="0" text-anchor="middle" fill="#222" stroke="#222"><tspan font-family="Liberation Serif, serif" font-style="italic" font-size="11.5">a</tspan><tspan font-family="Liberation Sans, sans-serif" font-size="10"> (Å)</tspan></text></g><g transform="translate(360 178) rotate(-90)"><text x="0" y="0" text-anchor="middle" fill="#222" stroke="#222"><tspan font-family="Liberation Serif, serif" font-style="italic" font-size="11.5">a</tspan><tspan font-family="Liberation Sans, sans-serif" font-size="10"> (Å)</tspan></text></g><g transform="translate(14.8 299.85) rotate(-90)"><text x="0" y="0" text-anchor="middle" fill="#222" stroke="#222"><tspan font-family="Liberation Serif, serif" font-style="italic" font-size="11.5">a</tspan><tspan font-family="Liberation Sans, sans-serif" font-size="10"> (Å)</tspan></text></g><g transform="translate(360 299.85) rotate(-90)"><text x="0" y="0" text-anchor="middle" fill="#222" stroke="#222"><tspan font-family="Liberation Serif, serif" font-style="italic" font-size="11.5">a</tspan><tspan font-family="Liberation Sans, sans-serif" font-size="10"> (Å)</tspan></text></g><text x="184.4" y="381.8" fill="#222" stroke="#222" style="stroke-width:0.25px" font-family="Liberation Serif, serif" font-style="italic" text-anchor="middle"><tspan font-size="12.3">x</tspan><tspan font-size="8.2" dy="2.8">RE</tspan></text><text x="529.6" y="381.8" fill="#222" stroke="#222" style="stroke-width:0.25px" font-family="Liberation Serif, serif" font-style="italic" text-anchor="middle"><tspan font-size="12.3">x</tspan><tspan font-size="8.2" dy="2.8">RE</tspan></text></svg></body></html>
